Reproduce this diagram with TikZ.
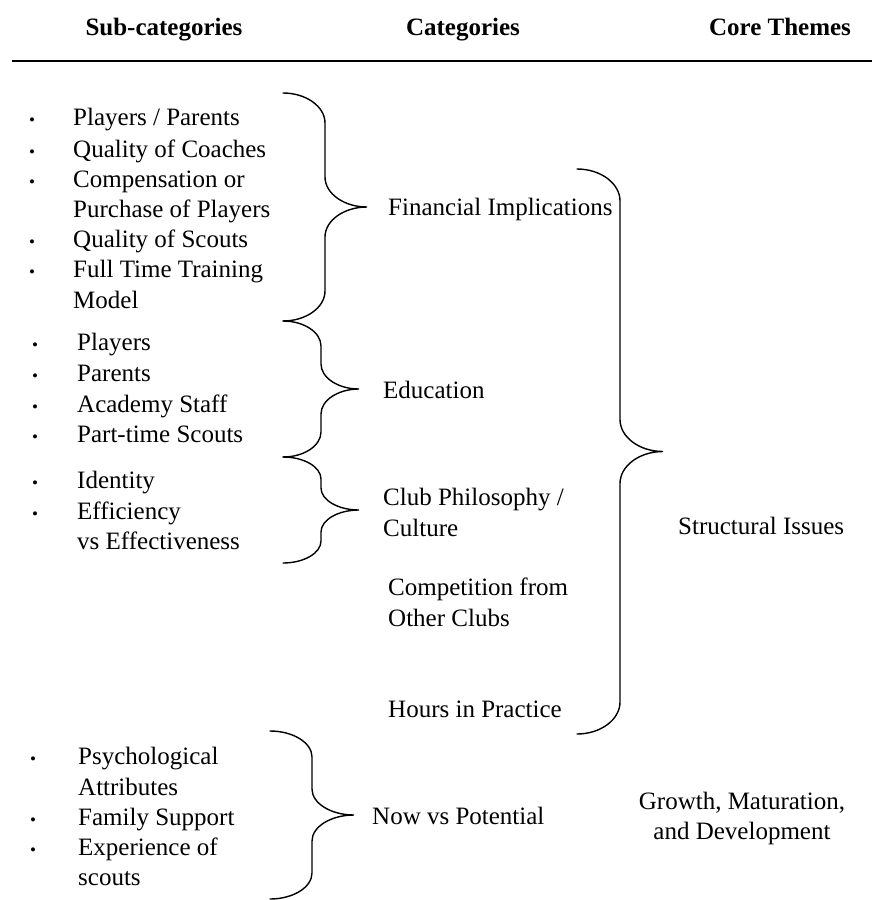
\documentclass[tikz,border=0pt]{standalone}
\usepackage{fontspec}
\setmainfont{Liberation Serif}

% curly brace: end x, top y, bottom y, depth, curl
\newcommand{\curlybrace}[5]{%
  \draw[brace line] (#1,#2)
    .. controls ({#1+0.275*#4},#2) and ({#1+0.5*#4},{#2+0.45*#5}) .. ({#1+0.5*#4},{#2+#5})
    -- ({#1+0.5*#4},{(#2+#3)/2-#5})
    .. controls ({#1+0.5*#4},{(#2+#3)/2-0.45*#5}) and ({#1+0.725*#4},{(#2+#3)/2}) .. ({#1+#4},{(#2+#3)/2})
    .. controls ({#1+0.725*#4},{(#2+#3)/2}) and ({#1+0.5*#4},{(#2+#3)/2+0.45*#5}) .. ({#1+0.5*#4},{(#2+#3)/2+#5})
    -- ({#1+0.5*#4},{#3-#5})
    .. controls ({#1+0.5*#4},{#3-0.45*#5}) and ({#1+0.275*#4},#3) .. (#1,#3);
}

\begin{document}
\begin{tikzpicture}[x=1pt, y=-1pt,
    every node/.style={inner sep=0pt, yshift=-5pt, font=\fontsize{25}{30}\selectfont},
    head/.style={anchor=mid, yshift=-3pt, font=\fontsize{25}{30}\selectfont\bfseries},
    item/.style={anchor=mid west},
    dot/.style={anchor=mid, font=\fontsize{17}{20}\selectfont},
    brace line/.style={line width=1.4pt, line cap=round}]
    \useasboundingbox (0,0) rectangle (872,900);

    % Header
    \node[head] (hsub) at (164,25) {Sub-categories};
    \node[head] (hcat) at (463,25) {Categories};
    \node[head] (hcore) at (780,25) {Core Themes};
    \draw[line width=1.6pt] (12,61) -- (872,61);

    % Sub-categories
    \node[dot] (d1) at (32,118) {•};
    \node[item] (s1) at (73,118) {Players / Parents};
    \node[dot] (d2) at (32,150) {•};
    \node[item] (s2) at (73,150) {Quality of Coaches};
    \node[dot] (d3) at (32,180) {•};
    \node[item] (s3) at (73,180) {Compensation or};
    \node[item] (s3b) at (73,210) {Purchase of Players};
    \node[dot] (d4) at (32,240) {•};
    \node[item] (s4) at (73,240) {Quality of Scouts};
    \node[dot] (d5) at (32,270) {•};
    \node[item] (s5) at (73,270) {Full Time Training};
    \node[item] (s5b) at (73,301) {Model};

    \node[dot] (d6) at (35,343) {•};
    \node[item] (s6) at (77,343) {Players};
    \node[dot] (d7) at (35,374) {•};
    \node[item] (s7) at (77,374) {Parents};
    \node[dot] (d8) at (35,405) {•};
    \node[item] (s8) at (77,405) {Academy Staff};
    \node[dot] (d9) at (35,435) {•};
    \node[item] (s9) at (77,435) {Part-time Scouts};

    \node[dot] (d10) at (35,481) {•};
    \node[item] (s10) at (77,481) {Identity};
    \node[dot] (d11) at (35,512) {•};
    \node[item] (s11) at (77,512) {Efficiency};
    \node[item] (s11b) at (77,542) {vs Effectiveness};

    \node[dot] (d12) at (33,757) {•};
    \node[item] (s12) at (78,757) {Psychological};
    \node[item] (s12b) at (78,788) {Attributes};
    \node[dot] (d13) at (33,818) {•};
    \node[item] (s13) at (78,818) {Family Support};
    \node[dot] (d14) at (33,848) {•};
    \node[item] (s14) at (78,848) {Experience of};
    \node[item] (s14b) at (78,878) {scouts};

    % Categories
    \node[item] (fin) at (388,208) {Financial Implications};
    \node[item] (edu) at (383,391) {Education};
    \node[item] (club) at (383,498) {Club Philosophy /};
    \node[item] (clubb) at (383,529) {Culture};
    \node[item] (comp) at (388,588) {Competition from};
    \node[item] (compb) at (388,619) {Other Clubs};
    \node[item] (hours) at (388,710) {Hours in Practice};
    \node[item] (now) at (372,817) {Now vs Potential};

    % Core themes
    \node[item] (struct) at (678,527) {Structural Issues};
    \node[anchor=mid] (growth) at (742,802) {Growth, Maturation,};
    \node[anchor=mid] (growthb) at (742,832) {and Development};

    % Braces
    \curlybrace{283}{93}{321}{84}{30}
    \curlybrace{283}{321}{457}{76}{25}
    \curlybrace{283}{457}{563}{76}{22}
    \curlybrace{577}{169}{734}{86}{32}
    \curlybrace{270}{731}{899}{84}{26}
\end{tikzpicture}
\end{document}
